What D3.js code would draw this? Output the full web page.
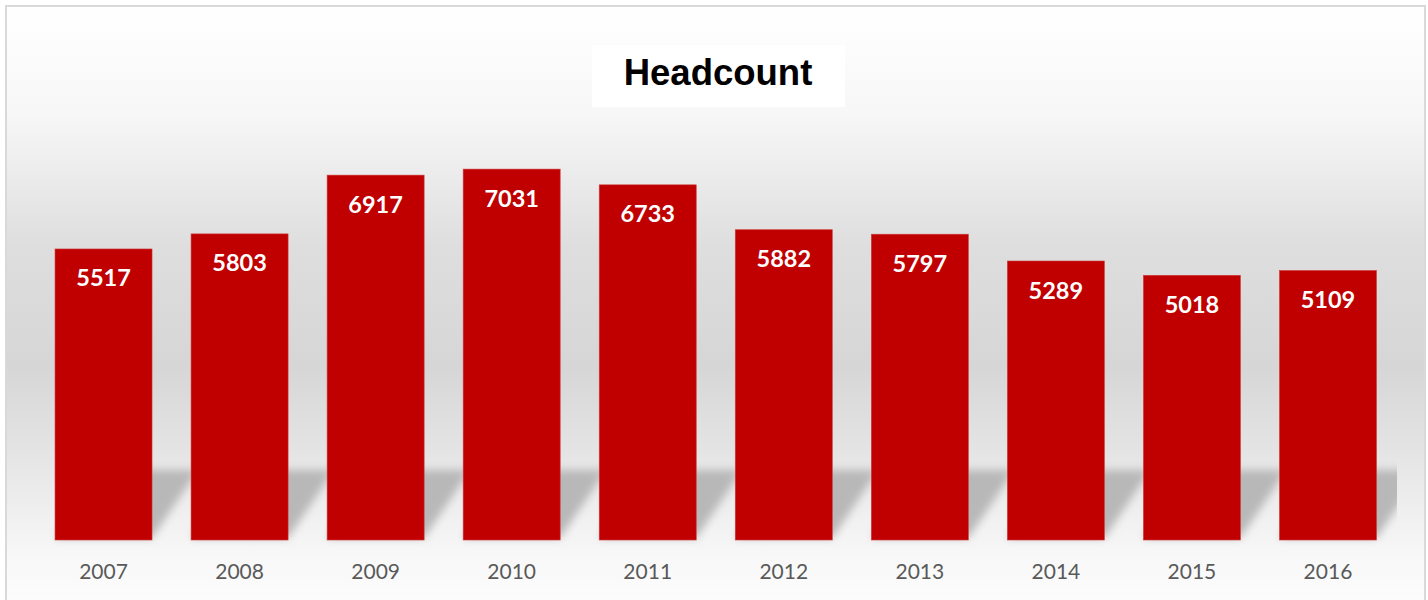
<!DOCTYPE html>
<html>
<head>
<meta charset="utf-8">
<script src="https://cdn.jsdelivr.net/npm/d3@7"></script>
<style>
  html, body { margin: 0; padding: 0; background: #ffffff; }
  svg { display: block; }
</style>
</head>
<body>
<div id="chart"></div>
<script>
const years = ["2007","2008","2009","2010","2011","2012","2013","2014","2015","2016"];
const headcount = [5517, 5803, 6917, 7031, 6733, 5882, 5797, 5289, 5018, 5109];
const chartTitle = "Headcount";

const W = 1428, H = 600;
const svg = d3.select("#chart").append("svg").attr("width", W).attr("height", H);
const defs = svg.append("defs");

// background gradient
const bg = defs.append("linearGradient").attr("id", "bg").attr("x1", 0).attr("y1", 0).attr("x2", 0).attr("y2", 1);
[[0, "#ffffff"], [0.18, "#f7f7f7"], [0.4, "#dedede"], [0.6, "#d6d6d6"], [0.78, "#e8e8e8"], [0.92, "#f8f8f8"], [1, "#fdfdfd"]]
  .forEach(([o, c]) => bg.append("stop").attr("offset", o).attr("stop-color", c));

defs.append("filter").attr("id", "blur").attr("x", "-20%").attr("y", "-20%").attr("width", "140%").attr("height", "140%")
  .append("feGaussianBlur").attr("stdDeviation", 4.5);

defs.append("clipPath").attr("id", "plotclip").append("rect")
  .attr("x", 7).attr("y", 7).attr("width", 1397 - 7).attr("height", 600);

svg.append("rect").attr("x", 6).attr("y", 6).attr("width", 1419).attr("height", 600)
  .attr("fill", "url(#bg)").attr("stroke", "#d9d9d9").attr("stroke-width", 2);

const x = d3.scaleBand().domain(years).range([35.5, 1396]).paddingInner(0.287).paddingOuter(0.1435);
const y = d3.scaleLinear().domain([0, 10000]).range([540, 12.5]);

// shadows
const shadowShift = 46, shadowTop = 470;
svg.append("g").attr("clip-path", "url(#plotclip)")
  .append("g").attr("filter", "url(#blur)")
  .selectAll("polygon").data(years).join("polygon")
  .attr("points", d => {
    const x0 = x(d), x1 = x(d) + x.bandwidth(), yb = y(0) - 2;
    return [[x0, yb], [x1, yb], [x1 + shadowShift, shadowTop], [x0 + shadowShift, shadowTop]].map(p => p.join(",")).join(" ");
  })
  .attr("fill", "#b2b2b2").attr("opacity", 0.9);

// bars
svg.append("g").selectAll("rect").data(years).join("rect")
  .attr("x", d => x(d)).attr("width", x.bandwidth())
  .attr("y", (d, i) => y(headcount[i])).attr("height", (d, i) => y(0) - y(headcount[i]))
  .attr("fill", "#c00000").attr("stroke", "#cf3a3a").attr("stroke-width", 0.6);

// value labels
svg.append("g").selectAll("text").data(years).join("text")
  .attr("x", d => x(d) + x.bandwidth() / 2)
  .attr("y", (d, i) => y(headcount[i]) + 37.5)
  .attr("text-anchor", "middle")
  .attr("font-family", "Lato, 'Open Sans', sans-serif").attr("font-weight", "bold").attr("font-size", 23.5)
  .attr("fill", "#ffffff")
  .text((d, i) => headcount[i]);

// x axis
const axis = svg.append("g").attr("transform", `translate(0,${y(0)})`)
  .call(d3.axisBottom(x).tickSize(0).tickPadding(0));
axis.select(".domain").remove();
axis.selectAll("text")
  .attr("dy", 0).attr("y", 39)
  .attr("font-family", "Lato, 'Open Sans', sans-serif").attr("font-size", 21)
  .attr("fill", "#595959");

// title
svg.append("rect").attr("x", 592).attr("y", 45).attr("width", 253).attr("height", 62).attr("fill", "#ffffff");
svg.append("text").attr("x", 718).attr("y", 85).attr("text-anchor", "middle")
  .attr("font-family", "'Liberation Sans', Arial, sans-serif").attr("font-weight", "bold").attr("font-size", 36.5)
  .attr("fill", "#000000").text(chartTitle);
</script>
</body>
</html>
